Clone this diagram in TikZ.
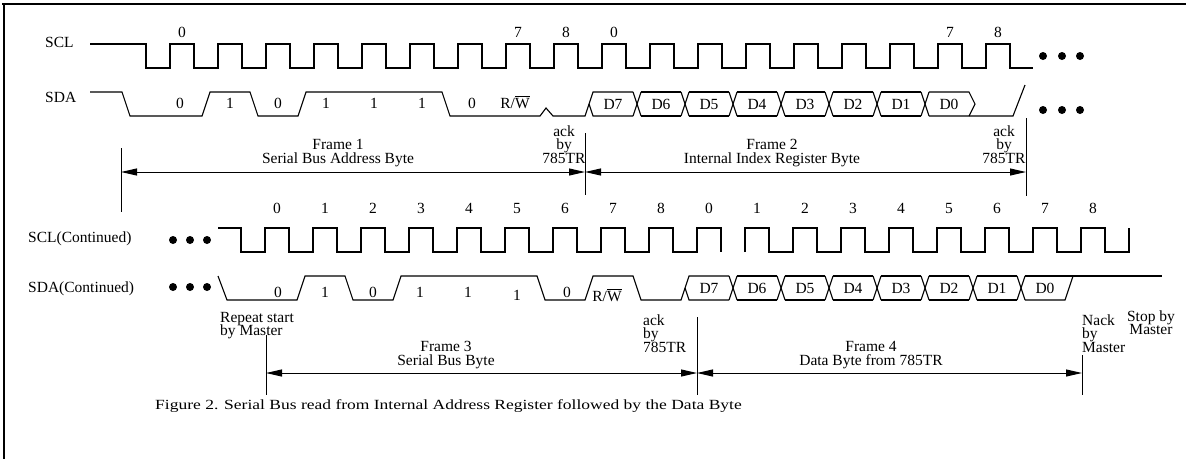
\documentclass[tikz,border=0pt]{standalone}
\usepackage{fontspec}
\setmainfont{Liberation Serif}
\usetikzlibrary{arrows.meta}
\begin{document}
\begin{tikzpicture}[x=1pt,y=-1pt,
  sig/.style={line width=1.1pt, line join=miter},
  lbl/.style={font=\fontsize{15.5}{17}\selectfont, inner sep=0pt, anchor=base},
  lbll/.style={lbl, anchor=base west},
  multi/.style={font={\fontsize{15.5}{13.6}\selectfont\lineskiplimit=-50pt}, inner sep=0pt, align=center, anchor=north},
  multil/.style={multi, align=left, anchor=north west},
  capt/.style={font=\fontsize{14}{16}\selectfont, inner sep=0pt, anchor=base west},
  dim/.style={line width=1pt, {Triangle[length=16pt,width=7pt]}-{Triangle[length=16pt,width=7pt]}},
  tick/.style={line width=1pt},
  bigdot/.style={circle, fill, inner sep=0pt, minimum size=8pt},
  frame/.style={line width=2.6pt}]
\useasboundingbox (0,0) rectangle (1186,459);
% border
\draw[frame] (2,4) -- (1186,4);
\draw[frame] (4,4) -- (4,459);

% ---------- row 1 ----------
\node[lbll] (scl) at (45,47) {SCL};
\node[lbll] (sda) at (45,102) {SDA};
\draw[sig] (90,44) -- (146,44) -- (146,68)
  \foreach \k in {0,...,17} { -- ({170+48*\k},68) -- ({170+48*\k},44) -- ({194+48*\k},44) -- ({194+48*\k},68) }
  -- (1033,68);
\node[lbl] (n1a) at (182,37) {0};
\node[lbl] (n1b) at (518,37) {7};
\node[lbl] (n1c) at (566,37) {8};
\node[lbl] (n1d) at (614,37) {0};
\node[lbl] (n1e) at (950,37) {7};
\node[lbl] (n1f) at (998,37) {8};
\foreach \x/\n in {1043/a,1062/b,1080/c} {
  \node[bigdot] (dA\n) at (\x,56) {};
  \node[bigdot] (dB\n) at (\x,110) {};
}
% SDA row 1
\draw[sig] (90,92) -- (122,92) -- (130,116) -- (202,116) -- (210,92) -- (250,92) -- (258,116)
  -- (298,116) -- (306,92) -- (442,92) -- (450,116) -- (540,116) -- (546,108) -- (553,116)
  -- (585,116) -- (593,92) -- (633,92);
\draw[sig] (589,104) -- (593,116) -- (633,116);
\foreach \j in {0,...,6} {
  \pgfmathsetmacro{\X}{637+48*\j}
  \draw[sig] ({\X-4},92) -- ({\X+4},116);
  \draw[sig] ({\X-4},116) -- ({\X+4},92);
  \ifnum\j<6
    \draw[sig] ({\X+4},92) -- ({\X+44},92);
    \draw[sig] ({\X+4},116) -- ({\X+44},116);
  \fi
}
\draw[sig] (929,92) -- (969,92) -- (975,104) -- (969,116);
\draw[sig] (929,116) -- (1013,116) -- (1025,85);
\foreach \x/\t/\n in {180/0/a,230/1/b,278/0/c,326/1/d,374/1/e,422/1/f,472/0/g} {
  \node[lbl] (b1\n) at (\x,108) {\t};
}
\node[lbl] (rw1) at (515,108) {R/$\overline{\hbox{W}}$};
\foreach \t [count=\i from 0] in {7,6,5,4,3,2,1,0} {
  \node[lbl] (d1\t) at ({613+48*\i},109) {D\t};
}
% annotations row 1
\coordinate (v1t) at (121,148); \coordinate (v1b) at (121,212);
\coordinate (v2t) at (585,133); \coordinate (v2b) at (585,195);
\coordinate (v3t) at (1026,118); \coordinate (v3b) at (1026,196);
\draw[tick] (v1t) -- (v1b);
\draw[tick] (v2t) -- (v2b);
\draw[tick] (v3t) -- (v3b);
\coordinate (a1L) at (121,172); \coordinate (a1M) at (585,172); \coordinate (a1R) at (1026,172);
\draw[dim] (a1L) -- (a1M);
\draw[dim] (a1M) -- (a1R);
\node[multi] (fr1) at (338,139.5) {Frame 1\\Serial Bus Address Byte};
\node[multi] (fr2) at (772,139.5) {Frame 2\\Internal Index Register Byte};
\node[multi] (ak1) at (564,125.4) {ack\\by\\785TR};
\node[multi] (ak2) at (1004,125.4) {ack\\by\\785TR};

% ---------- row 2 ----------
\node[lbll] (scl2) at (28,242) {SCL(Continued)};
\node[lbll] (sda2) at (28,292) {SDA(Continued)};
\foreach \x/\n in {173/a,190/b,207/c} {
  \node[bigdot] (dC\n) at (\x,240) {};
  \node[bigdot] (dD\n) at (\x,287) {};
}
\draw[sig] (218,228) -- (241,228) -- (241,252)
  \foreach \k in {0,...,9} { -- ({265+48*\k},252) -- ({265+48*\k},228) -- ({289+48*\k},228) -- ({289+48*\k},252) };
\draw[sig] (745,252)
  \foreach \k in {10,...,17} { -- ({265+48*\k},252) -- ({265+48*\k},228) -- ({289+48*\k},228) -- ({289+48*\k},252) }
  -- (1129,252) -- (1129,228);
\foreach \t [count=\i from 0] in {0,1,2,3,4,5,6,7,8,0,1,2,3,4,5,6,7,8} {
  \node[lbl] (n2x\i) at ({277+48*\i},213) {\t};
}
% SDA row 2
\draw[sig] (218,276) -- (227,300) -- (297,300) -- (305,276) -- (345,276) -- (353,300)
  -- (393,300) -- (401,276) -- (537,276) -- (545,300) -- (585,300) -- (593,276)
  -- (633,276) -- (641,300) -- (681,300) -- (689,276) -- (729,276);
\draw[sig] (685,288) -- (689,300) -- (729,300);
\foreach \j in {0,...,6} {
  \pgfmathsetmacro{\X}{733+48*\j}
  \draw[sig] ({\X-4},276) -- ({\X+4},300);
  \draw[sig] ({\X-4},300) -- ({\X+4},276);
  \ifnum\j<6
    \draw[sig] ({\X+4},276) -- ({\X+44},276);
    \draw[sig] ({\X+4},300) -- ({\X+44},300);
  \fi
}
\draw[sig] (1025,276) -- (1162,276);
\draw[sig] (1025,300) -- (1065,300) -- (1073,276);
\foreach \x/\y/\t/\n in {278/297/0/a,325/297/1/b,373/297/0/c,420/297/1/d,468/297/1/e,517/300/1/f,567/297/0/g} {
  \node[lbl] (b2\n) at (\x,\y) {\t};
}
\node[lbl] (rw2) at (607,301) {R/$\overline{\hbox{W}}$};
\foreach \t [count=\i from 0] in {7,6,5,4,3,2,1,0} {
  \node[lbl] (d2\t) at ({709+48*\i},293) {D\t};
}
% annotations row 2
\coordinate (w1t) at (266,335); \coordinate (w1b) at (266,395);
\coordinate (w2t) at (697,317); \coordinate (w2b) at (697,395);
\coordinate (w3t) at (1082,355); \coordinate (w3b) at (1082,395);
\draw[tick] (w1t) -- (w1b);
\draw[tick] (w2t) -- (w2b);
\draw[tick] (w3t) -- (w3b);
\coordinate (a2L) at (266,373); \coordinate (a2M) at (697,373); \coordinate (a2R) at (1082,373);
\draw[dim] (a2L) -- (a2M);
\draw[dim] (a2M) -- (a2R);
\node[multil] (rs) at (220,311.7) {Repeat start\\by Master};
\node[multil] (ak3) at (643,314.4) {ack\\by\\785TR};
\node[multi] (fr3) at (446,341.5) {Frame 3\\Serial Bus Byte};
\node[multi] (fr4) at (871,341.5) {Frame 4\\Data Byte from 785TR};
\node[multil] (nk) at (1082,314.4) {Nack\\by\\Master};
\node[multi] (st) at (1151,310.4) {Stop by\\Master};

\node[capt] (cap) at (155,409) {\scalebox{1.25}[1]{Figure 2. Serial Bus read from Internal Address Register followed by the Data Byte}};
\end{tikzpicture}
\end{document}
